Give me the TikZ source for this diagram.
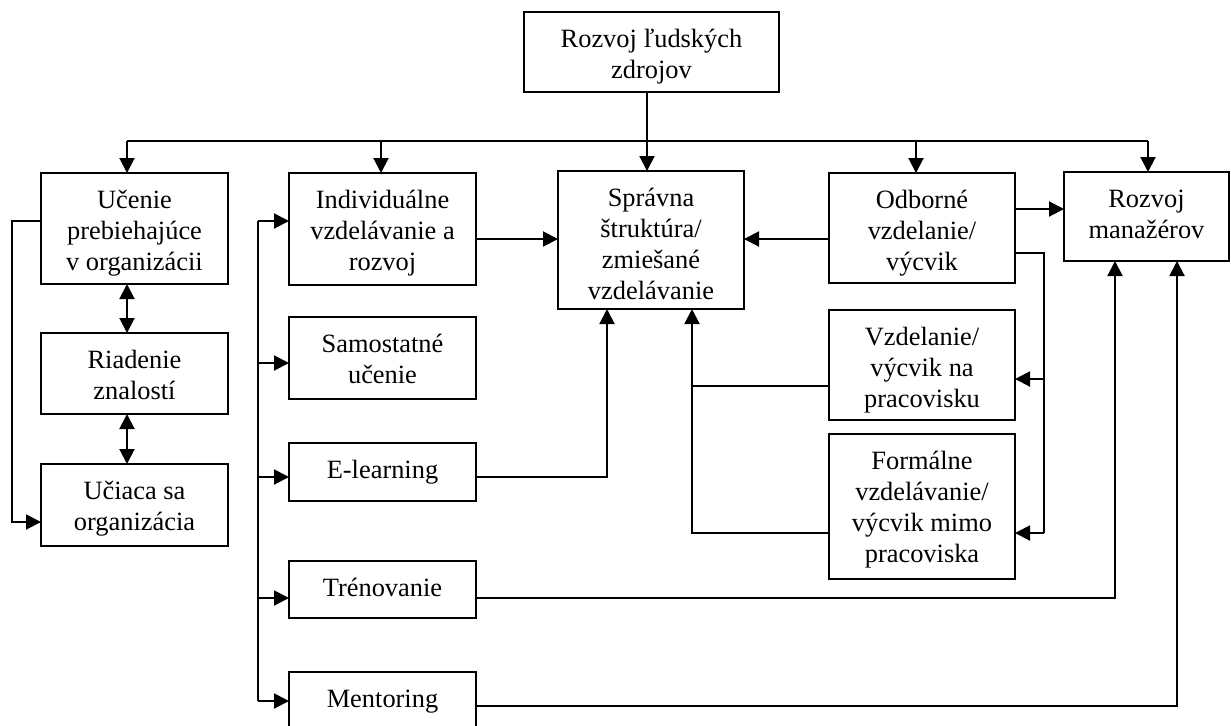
\documentclass[tikz,border=0pt]{standalone}
\usepackage{fontspec}
\setmainfont{Liberation Serif}
\usetikzlibrary{arrows.meta}
% box given by its corners in pixel units (y downwards); text top-aligned
\newcommand\bx[6]{%
  \node[box, at={({(#2+#4)/2},{(#3+#5)/2})}] (#1)
    {\parbox[c][\dimexpr(#5pt-#3pt)/2\relax][t]{\dimexpr(#4pt-#2pt)/2\relax}%
      {\centering\rule{0pt}{17.75pt}#6\par}};}
\begin{document}
\begin{tikzpicture}[x=0.5pt,y=-0.5pt,
  box/.style={draw, line width=0.9pt, inner sep=0pt, outer sep=0pt,
    font=\fontsize{13.2}{15.5}\selectfont},
  link/.style={line width=1pt},
  tip/.style={Triangle[length=7.5pt,width=7.5pt]},
  arr/.style={link, -{Triangle[length=7.5pt,width=7.5pt]}},
  dblarr/.style={link, {Triangle[length=7.5pt,width=7.5pt]}-{Triangle[length=7.5pt,width=7.5pt]}}]
\useasboundingbox (0,0) rectangle (1231,725);
\clip (0,0) rectangle (1231,725);

% boxes
\bx{top}{524}{12}{779}{92}{Rozvoj ľudských\\zdrojov}
\bx{ucenie}{41}{173}{228}{284}{Učenie\\prebiehajúce\\v organizácii}
\bx{riadenie}{41}{333}{228}{414}{Riadenie\\znalostí}
\bx{uciaca}{41}{464}{228}{546}{Učiaca sa\\organizácia}
\bx{indiv}{289}{173}{476}{285}{Individuálne\\vzdelávanie a\\rozvoj}
\bx{samost}{289}{317}{476}{399}{Samostatné\\učenie}
\bx{elearn}{289}{443}{476}{501}{E-learning}
\bx{trenov}{289}{561}{476}{618}{Trénovanie}
\bx{mentor}{289}{672}{476}{729}{Mentoring}
\bx{spravna}{558}{171}{744}{309}{Správna\\štruktúra/\\zmiešané\\vzdelávanie}
\bx{odborne}{829}{173}{1015}{283}{Odborné\\vzdelanie/\\výcvik}
\bx{vzdel}{829}{310}{1015}{420}{Vzdelanie/\\výcvik na\\pracovisku}
\bx{formal}{829}{434}{1015}{579}{Formálne\\vzdelávanie/\\výcvik mimo\\pracoviska}
\bx{rozvojm}{1064}{172}{1229}{261}{Rozvoj\\manažérov}

% distribution bus below the top box
\coordinate (busL) at (127,141);
\coordinate (busR) at (1148,141);
\draw[link] (busL) -- (busR);
\draw[arr] (top.south -| 647,0) -- (spravna.north -| 647,0);
\draw[arr] (busL) -- (ucenie.north -| busL);
\draw[arr] (busL -| 381,0) -- (indiv.north -| 381,0);
\draw[arr] (busL -| 916,0) -- (odborne.north -| 916,0);
\draw[arr] (busR) -- (rozvojm.north -| busR);

% left column
\draw[dblarr] (ucenie.south -| busL) -- (riadenie.north -| busL);
\draw[dblarr] (riadenie.south -| busL) -- (uciaca.north -| busL);
\draw[arr] (ucenie.west |- 0,221) -- ++(-29,0) |- (uciaca.west |- 0,522);

% second column bus
\coordinate (lbus) at (258,0);
\draw[link] (lbus |- 0,221) -- (lbus |- 0,701);
\draw[arr] (lbus |- 0,221) -- (indiv.west |- 0,221);
\draw[arr] (lbus |- 0,363) -- (samost.west |- 0,363);
\draw[arr] (lbus |- 0,477) -- (elearn.west |- 0,477);
\draw[arr] (lbus |- 0,598) -- (trenov.west |- 0,598);
\draw[arr] (lbus |- 0,701) -- (mentor.west |- 0,701);

% into the centre box
\draw[arr] (indiv.east |- 0,239) -- (spravna.west |- 0,239);
\draw[arr] (odborne.west |- 0,239) -- (spravna.east |- 0,239);
\draw[arr] (elearn.east |- 0,477) -| (spravna.south -| 607,0);
\draw[arr] (vzdel.west |- 0,386) -| (spravna.south -| 692,0);
\draw[link] (formal.west |- 0,533) -| (692,386);

% right side
\draw[arr] (odborne.east |- 0,209) -- (rozvojm.west |- 0,209);
\coordinate (rbus) at (1044,0);
\draw[link] (odborne.east |- 0,253) -| (rbus |- 0,533);
\draw[arr] (rbus |- 0,379) -- (vzdel.east |- 0,379);
\draw[arr] (rbus |- 0,533) -- (formal.east |- 0,533);
\draw[arr] (trenov.east |- 0,598) -| (rozvojm.south -| 1115,0);
\draw[arr] (mentor.east |- 0,706) -| (rozvojm.south -| 1177,0);
\end{tikzpicture}
\end{document}
